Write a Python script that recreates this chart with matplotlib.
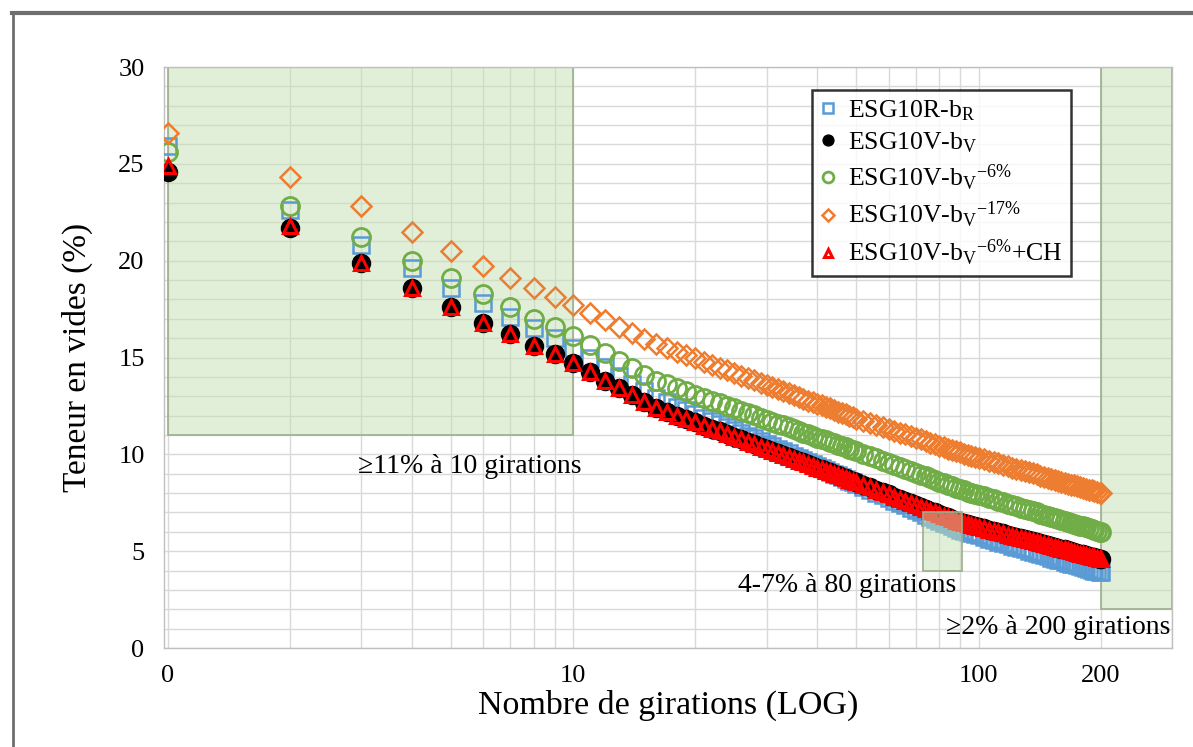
import matplotlib
matplotlib.use("Agg")
import matplotlib.pyplot as plt
from matplotlib.patches import Rectangle
from matplotlib.lines import Line2D
from matplotlib.ticker import FixedLocator, LogLocator, NullFormatter, MultipleLocator

plt.rcParams['font.family'] = ['Liberation Serif', 'DejaVu Serif']
plt.rcParams['mathtext.fontset'] = 'custom'
plt.rcParams['mathtext.rm'] = 'Liberation Serif'
plt.rcParams['mathtext.it'] = 'Liberation Serif:italic'

# number of gyrations at which each specimen was measured
girations = [1, 2, 3, 4, 5, 6, 7, 8, 9, 10,
             11, 12, 13, 14, 15, 16, 17, 18, 19, 20,
             21, 22, 23, 24, 25, 26, 27, 28, 29, 30,
             31, 32, 33, 34, 35, 36, 37, 38, 39, 40,
             41, 42, 43, 44, 45, 46, 47, 48, 49, 50,
             52, 54, 56, 58, 60, 62, 64, 66, 68, 70,
             72, 74, 76, 78, 80, 82, 84, 86, 88, 90,
             92, 94, 96, 98, 100,
             103, 106, 109, 112, 115, 118, 121, 124, 127, 130,
             133, 136, 139, 142, 145, 148, 151, 154, 157, 160,
             163, 166, 169, 172, 175, 178, 181, 184, 187, 190,
             193, 196, 199, 200]

# void content (%)
esg10r_br = [25.9, 22.6, 20.8, 19.6, 18.6, 17.8, 17.1, 16.5, 16.0, 15.5,
             14.97, 14.49, 14.05, 13.64, 13.26, 12.90, 12.68, 12.46, 12.27, 12.08,
             11.90, 11.72, 11.56, 11.40, 11.25, 11.11, 10.97, 10.83, 10.70, 10.56,
             10.43, 10.30, 10.17, 10.05, 9.93, 9.82, 9.71, 9.60, 9.49, 9.39,
             9.29, 9.19, 9.09, 9.00, 8.91, 8.82, 8.73, 8.64, 8.56, 8.48,
             8.32, 8.17, 8.02, 7.88, 7.74, 7.61, 7.48, 7.36, 7.23, 7.12,
             7.00, 6.89, 6.78, 6.68, 6.58, 6.48, 6.38, 6.28, 6.19, 6.10,
             6.04, 5.98, 5.92, 5.87, 5.81,
             5.73, 5.65, 5.57, 5.50, 5.42, 5.35, 5.28, 5.22, 5.15, 5.09,
             5.02, 4.96, 4.90, 4.84, 4.79, 4.73, 4.67, 4.62, 4.57, 4.52,
             4.46, 4.41, 4.36, 4.32, 4.27, 4.22, 4.18, 4.13, 4.09, 4.04,
             4.00, 3.96, 3.91, 3.90]

esg10v_bv = [24.6, 21.7, 19.9, 18.6, 17.6, 16.8, 16.2, 15.6, 15.2, 14.7,
             14.23, 13.81, 13.41, 13.05, 12.71, 12.40, 12.20, 12.00, 11.82, 11.65,
             11.48, 11.33, 11.18, 11.04, 10.90, 10.77, 10.64, 10.52, 10.40, 10.29,
             10.18, 10.07, 9.97, 9.86, 9.77, 9.67, 9.58, 9.49, 9.40, 9.32,
             9.23, 9.15, 9.07, 9.00, 8.92, 8.85, 8.77, 8.70, 8.63, 8.57,
             8.43, 8.30, 8.17, 8.05, 7.93, 7.81, 7.70, 7.59, 7.49, 7.39,
             7.29, 7.19, 7.10, 7.01, 6.92, 6.83, 6.74, 6.66, 6.58, 6.50,
             6.45, 6.40, 6.35, 6.30, 6.25,
             6.18, 6.11, 6.04, 5.98, 5.92, 5.85, 5.80, 5.74, 5.68, 5.62,
             5.57, 5.52, 5.47, 5.41, 5.36, 5.32, 5.27, 5.22, 5.18, 5.13,
             5.09, 5.04, 5.00, 4.96, 4.92, 4.88, 4.84, 4.80, 4.76, 4.72,
             4.68, 4.65, 4.61, 4.60]

esg10v_bv_6 = [25.6, 22.8, 21.2, 20.0, 19.1, 18.3, 17.6, 17.0, 16.6, 16.1,
               15.63, 15.21, 14.81, 14.45, 14.11, 13.80, 13.61, 13.42, 13.25, 13.09,
               12.93, 12.78, 12.64, 12.50, 12.37, 12.25, 12.13, 12.01, 11.90, 11.79,
               11.69, 11.59, 11.49, 11.39, 11.30, 11.21, 11.12, 11.04, 10.95, 10.87,
               10.79, 10.72, 10.64, 10.57, 10.50, 10.43, 10.36, 10.29, 10.23, 10.16,
               10.04, 9.91, 9.79, 9.67, 9.56, 9.45, 9.34, 9.24, 9.14, 9.04,
               8.95, 8.86, 8.77, 8.68, 8.59, 8.51, 8.43, 8.35, 8.28, 8.20,
               8.14, 8.08, 8.02, 7.97, 7.91,
               7.83, 7.75, 7.67, 7.60, 7.52, 7.45, 7.38, 7.32, 7.25, 7.19,
               7.12, 7.06, 7.00, 6.94, 6.89, 6.83, 6.77, 6.72, 6.67, 6.62,
               6.56, 6.51, 6.46, 6.42, 6.37, 6.32, 6.28, 6.23, 6.19, 6.14,
               6.10, 6.06, 6.01, 6.00]

esg10v_bv_17 = [26.6, 24.3, 22.8, 21.5, 20.5, 19.7, 19.1, 18.6, 18.1, 17.7,
                17.29, 16.92, 16.58, 16.27, 15.97, 15.70, 15.50, 15.30, 15.12, 14.95,
                14.78, 14.63, 14.48, 14.34, 14.20, 14.07, 13.94, 13.82, 13.70, 13.59,
                13.47, 13.37, 13.26, 13.16, 13.06, 12.97, 12.87, 12.78, 12.70, 12.61,
                12.53, 12.45, 12.37, 12.29, 12.21, 12.14, 12.06, 11.99, 11.92, 11.85,
                11.74, 11.63, 11.52, 11.41, 11.31, 11.21, 11.12, 11.03, 10.94, 10.85,
                10.77, 10.68, 10.60, 10.53, 10.45, 10.38, 10.30, 10.23, 10.17, 10.10,
                10.04, 9.99, 9.93, 9.88, 9.82,
                9.75, 9.67, 9.60, 9.53, 9.46, 9.39, 9.32, 9.26, 9.19, 9.13,
                9.07, 9.02, 8.96, 8.90, 8.85, 8.79, 8.74, 8.69, 8.64, 8.59,
                8.54, 8.49, 8.44, 8.40, 8.35, 8.31, 8.26, 8.22, 8.18, 8.14,
                8.10, 8.05, 8.01, 8.00]

esg10v_bv_6_ch = [24.9, 21.8, 19.9, 18.6, 17.6, 16.8, 16.2, 15.6, 15.2, 14.7,
                  14.23, 13.81, 13.41, 13.05, 12.71, 12.40, 12.20, 12.00, 11.82, 11.65,
                  11.48, 11.33, 11.18, 11.04, 10.90, 10.77, 10.64, 10.52, 10.40, 10.29,
                  10.18, 10.07, 9.97, 9.86, 9.77, 9.67, 9.58, 9.49, 9.40, 9.32,
                  9.23, 9.15, 9.07, 9.00, 8.92, 8.85, 8.77, 8.70, 8.63, 8.57,
                  8.43, 8.30, 8.17, 8.05, 7.93, 7.81, 7.70, 7.59, 7.49, 7.39,
                  7.29, 7.19, 7.10, 7.01, 6.92, 6.83, 6.74, 6.66, 6.58, 6.50,
                  6.45, 6.40, 6.35, 6.30, 6.25,
                  6.18, 6.11, 6.04, 5.98, 5.92, 5.85, 5.80, 5.74, 5.68, 5.62,
                  5.57, 5.52, 5.47, 5.41, 5.36, 5.32, 5.27, 5.22, 5.18, 5.13,
                  5.09, 5.04, 5.00, 4.96, 4.92, 4.88, 4.84, 4.80, 4.76, 4.72,
                  4.68, 4.65, 4.61, 4.60]

labels = [r"ESG10R-b$_{\mathrm{R}}$",
          r"ESG10V-b$_{\mathrm{V}}$",
          r"ESG10V-b$_{\mathrm{V}}$$^{-6\%}$",
          r"ESG10V-b$_{\mathrm{V}}$$^{-17\%}$",
          r"ESG10V-b$_{\mathrm{V}}$$^{-6\%}$+CH"]

# specification zones: (x0, x1, y0, y1)
zones = [(1, 10, 11, 30), (73, 91, 4, 7), (200, 300, 2, 30)]
zone_texts = ["≥11% à 10 girations", "4-7% à 80 girations", "≥2% à 200 girations"]

fig = plt.figure(figsize=(11.93, 7.47), dpi=100)
ax = fig.add_axes([0.1375, 0.1325, 0.8449, 0.7778])

ax.set_xscale('log')
ax.set_xlim(0.98, 300)
ax.set_ylim(0, 30)

ax.plot(girations, esg10r_br, ls='none', marker='s', ms=11, mfc='none',
        mec='#5B9BD5', mew=1.8, label=labels[0], zorder=3)
ax.plot(girations, esg10v_bv, ls='none', marker='o', ms=13, mfc='black',
        mec='black', label=labels[1], zorder=4)
ax.plot(girations, esg10v_bv_6, ls='none', marker='o', ms=13, mfc='none',
        mec='#70AD47', mew=2.0, label=labels[2], zorder=5)
ax.plot(girations, esg10v_bv_17, ls='none', marker='D', ms=10, mfc='none',
        mec='#ED7D31', mew=1.8, label=labels[3], zorder=6)
ax.plot(girations, esg10v_bv_6_ch, ls='none', marker='^', ms=10, mfc='none',
        mec='#FF0000', mew=2.2, label=labels[4], zorder=7)

# large zones sit behind the points, the 80-gyration window is drawn over them
for i, (x0, x1, y0, y1) in enumerate(zones):
    z = 8 if i == 1 else 1
    ax.add_patch(Rectangle((x0, y0), x1 - x0, y1 - y0, facecolor='#c5e0b3',
                           alpha=0.5, edgecolor='none', zorder=z))
    ax.add_patch(Rectangle((x0, y0), x1 - x0, y1 - y0, facecolor='none',
                           edgecolor='#9aae8c', lw=1.2, zorder=z))

ax.text(10.5, 9.35, zone_texts[0], fontsize=20, ha='right', va='center', zorder=9)
ax.text(88, 3.25, zone_texts[1], fontsize=20, ha='right', va='center', zorder=9)
ax.text(298, 1.05, zone_texts[2], fontsize=20, ha='right', va='center', zorder=9)

# grid
ax.yaxis.set_major_locator(MultipleLocator(5))
ax.yaxis.set_minor_locator(MultipleLocator(1))
ax.xaxis.set_major_locator(FixedLocator([1, 10, 100, 200]))
ax.xaxis.set_minor_locator(LogLocator(base=10, subs=range(2, 10), numticks=20))
ax.xaxis.set_minor_formatter(NullFormatter())
ax.set_xticklabels(["0", "10", "100", "200"])
ax.grid(True, which='both', color='#d9d9d9', lw=1.0, zorder=0)
ax.set_axisbelow(True)
ax.tick_params(which='both', length=0, labelsize=19)
ax.tick_params(axis='y', pad=14)
ax.tick_params(axis='x', pad=12)
for s in ax.spines.values():
    s.set_color('#bfbfbf')
    s.set_linewidth(1.0)

ax.set_xlabel("Nombre de girations (LOG)", fontsize=24.5, labelpad=2)
ax.set_ylabel("Teneur en vides (%)", fontsize=24, labelpad=18)

leg = ax.legend(loc='upper left', bbox_to_anchor=(0.643, 0.96), fontsize=18.5,
                frameon=True, fancybox=False, markerscale=0.6,
                handlelength=0.6, handletextpad=0.5, labelspacing=0.3,
                borderpad=0.3, borderaxespad=0)
leg.get_frame().set_edgecolor('black')
leg.get_frame().set_linewidth(1.8)
leg.set_zorder(10)

# outer frame (top and left edges)
fig.add_artist(Line2D([0.010, 1.0], [0.982, 0.982], color='#6e6e6e', lw=3))
fig.add_artist(Line2D([0.011, 0.011], [0.0, 0.982], color='#6e6e6e', lw=2))

fig.savefig("out.png", dpi=100)
